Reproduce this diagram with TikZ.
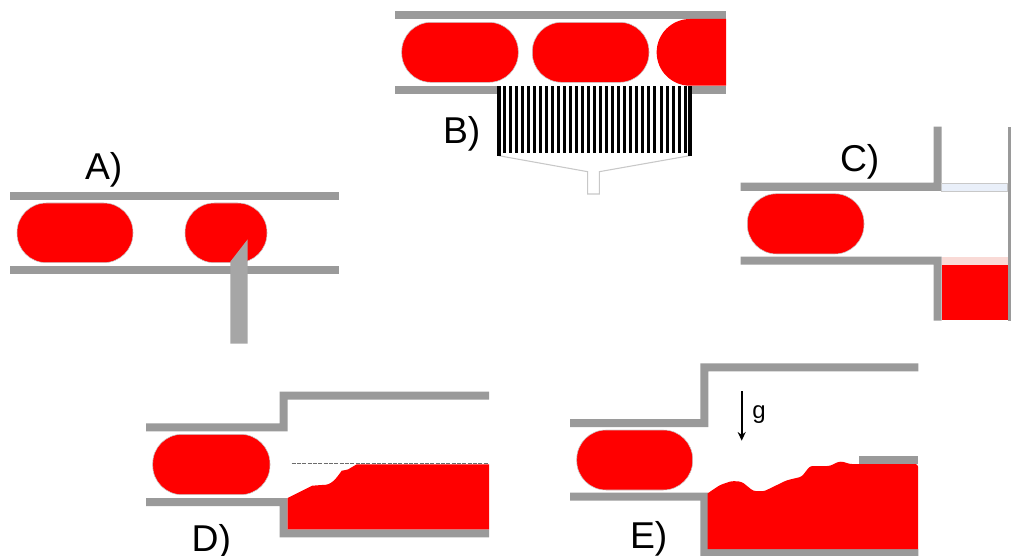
\documentclass[tikz,border=0pt]{standalone}
\usepackage{fontspec}
\setmainfont{Liberation Sans}
\usetikzlibrary{arrows.meta}
\definecolor{wallgray}{HTML}{9A9A9A}
\definecolor{needlegray}{HTML}{A6A6A6}
\definecolor{outlinegray}{HTML}{C8C8C8}
\definecolor{plugred}{HTML}{FF0000}
\definecolor{gasblue}{HTML}{E9EFF9}
\definecolor{filmpink}{HTML}{F9DAD6}
\tikzset{
  x=0.75pt, y=-0.75pt,
  wall/.style={fill=wallgray, draw=none},
  plug/.style={fill=plugred, draw=outlinegray, line width=0.4pt, rounded corners=22pt},
  liquid/.style={fill=plugred, draw=none},
  caselabel/.style={anchor=base west, inner sep=0pt, outer sep=0pt, font=\fontsize{28}{28}\selectfont},
  stripe/.style={fill=black, draw=none},
  funnel/.style={draw=outlinegray, line width=0.8pt, fill=white}
}
\begin{document}
\begin{tikzpicture}
\useasboundingbox (0,0) rectangle (1011,556);

% A: needle piercing the channel wall
\path[wall] (10,192.3) rectangle (339,200.3);
\path[wall] (10,265.7) rectangle (339,273.7);
\path[plug] (17,203) rectangle (133,262.7);
\path[plug] (185,203) rectangle (267,262.7);
\path[fill=needlegray] (230.3,343.5) -- (230.3,261.7) -- (247.7,239.3) -- (247.7,343.5) -- cycle;
\node[caselabel] (labelA) at (85,180) {A)};

% B: porous filter below the channel
\path[wall] (394.7,11.3) rectangle (726.3,19.3);
\path[wall] (394.7,85.7) rectangle (726.3,93.7);
\path[plug] (401.7,22.3) rectangle (518.3,82.3);
\path[plug] (532.3,22.3) rectangle (649,82.3);
\path[liquid] (726,19) -- (690,19) arc[start angle=-90, end angle=-270, radius=33.35] -- (726,85.7) -- cycle;
\path[fill=white] (496.7,85.7) rectangle (691.7,94);
\path[funnel] (498.7,155.7) -- (587.7,171.7) -- (587.7,194) -- (599.3,194) -- (599.3,171.7) -- (689.7,155.7);
\foreach \i in {1,...,31} {
  \path[stripe] ({496.7+6.03*\i},85.7) rectangle ++(3,66.9);
}
\path[stripe] (496.7,85.7) rectangle (500.7,155.7);
\path[stripe] (687.7,85.7) rectangle (691.7,155.7);
\node[caselabel] (labelB) at (443,143.3) {B)};

% C: side branches with gas above and liquid below
\path[wall] (740.7,182.7) -- (933.7,182.7) -- (933.7,126.7) -- (941.7,126.7) -- (941.7,191) -- (740.7,191) -- cycle;
\path[wall] (740.7,256.7) -- (941.7,256.7) -- (941.7,320.7) -- (933.7,320.7) -- (933.7,264.7) -- (740.7,264.7) -- cycle;
\path[wall] (1007.7,126.7) rectangle (1011,320.7);
\path[fill=gasblue, draw=outlinegray, line width=0.4pt] (941.7,183) rectangle (1007.7,191);
\path[fill=filmpink, draw=none] (941.7,257) rectangle (1007.7,264.7);
\path[liquid] (941.7,264.7) rectangle (1007.7,320.3);
\path[plug] (747.3,193.7) rectangle (864,254);
\node[caselabel] (labelC) at (840,171.7) {C)};

% D: expansion with a settled liquid level
\path[wall] (146,423.3) -- (279.7,423.3) -- (279.7,391.7) -- (489,391.7) -- (489,399.7) -- (287.7,399.7) -- (287.7,431.3) -- (146,431.3) -- cycle;
\path[wall] (146,498) -- (287.7,498) -- (287.7,529.3) -- (489,529.3) -- (489,537.3) -- (279.7,537.3) -- (279.7,506) -- (146,506) -- cycle;
\path[liquid] (287.7,498) -- (312.3,485.7) to[out=-5,in=175] (321.7,485) to[out=-5,in=235] (341.7,470.7) to[out=-20,in=170] (348.3,469.3) -- (356.7,464.3) -- (489,464.3) -- (489,529.3) -- (287.7,529.3) -- cycle;
\draw[dash pattern=on 3pt off 1pt, wallgray!70!black, line width=0.8pt] (291.7,463.7) -- (489,463.7);
\path[plug] (152.7,434.3) rectangle (270,494.7);
\node[caselabel] (labelD) at (191.7,551.7) {D)};

% E: expansion under gravity with an uneven liquid surface
\path[wall] (570,419) -- (700.3,419) -- (700.3,363.3) -- (918.3,363.3) -- (918.3,371.3) -- (708.3,371.3) -- (708.3,427) -- (570,427) -- cycle;
\path[wall] (570,492.7) -- (708.3,492.7) -- (708.3,549) -- (918.3,549) -- (918.3,556) -- (700.3,556) -- (700.3,500.7) -- (570,500.7) -- cycle;
\path[wall] (859,455.7) rectangle (918.3,464);
\path[liquid, rounded corners=2pt] (707.7,493.3) -- (720,485) -- (731.7,481) -- (741.7,481.7) -- (753.3,491) -- (764,491.3) -- (786.7,480.3) -- (801.7,476.7) -- (810,466) -- (830,466) -- (838.3,461.7) -- (843.3,461.7) -- (849.3,464) -- (918,464) [sharp corners] -- (918,549) -- (707.7,549) -- cycle;
\path[plug] (576.7,430) rectangle (692.7,490);
\coordinate (gTop) at (741.7,391);
\coordinate (gTip) at (741.7,440.7);
\draw[-{Stealth[length=6.5pt,width=6pt]}, line width=1.2pt, black] (gTop) -- (gTip);
\node[anchor=base west, inner sep=0pt, font=\fontsize{18}{18}\selectfont] (gLabel) at (752,418) {g};
\node[caselabel] (labelE) at (630,548) {E)};
\end{tikzpicture}
\end{document}
